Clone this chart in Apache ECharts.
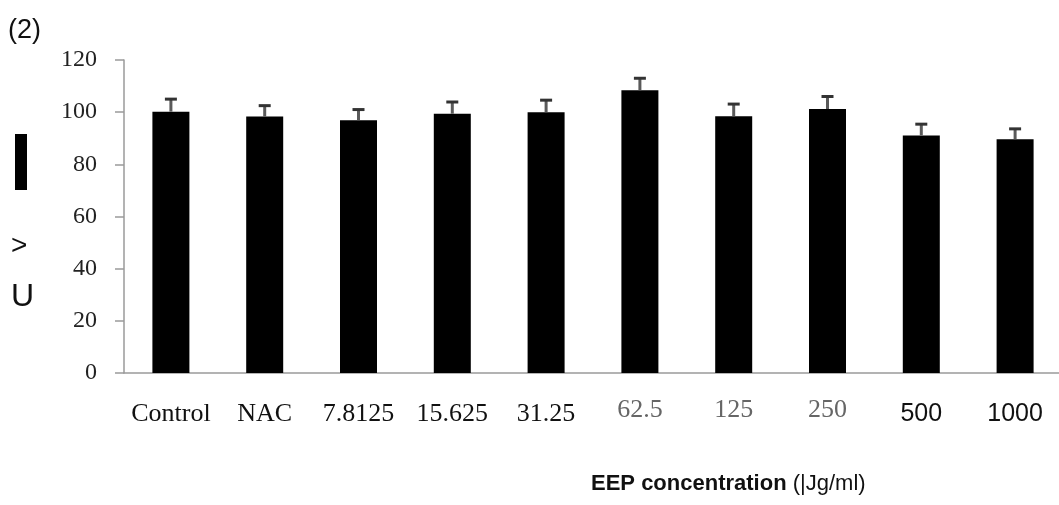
<!DOCTYPE html>
<html>
<head>
<meta charset="utf-8">
<script src="https://cdn.jsdelivr.net/npm/echarts@6/dist/echarts.min.js"></script>
<style>
html,body{margin:0;padding:0;background:#fff;}
#chart{width:1059px;height:505px;}
</style>
</head>
<body>
<div id="chart"></div>
<script>
const categories = ['Control','NAC','7.8125','15.625','31.25','62.5','125','250','500','1000'];
const values = [100.2, 98.3, 96.9, 99.4, 100.0, 108.4, 98.4, 101.2, 91.1, 89.6];
const errors = [4.8, 4.2, 4.1, 4.5, 4.6, 4.6, 4.7, 4.8, 4.3, 4.0];
const yTicks = [0, 20, 40, 60, 80, 100, 120];
const panelLabel = '(2)';
const sideLabels = ['>', 'U'];
const xTitleBold = 'EEP concentration';
const xTitleUnit = ' (|Jg/ml)';

const chart = echarts.init(document.getElementById('chart'), null, {renderer:'canvas'});

function labelStyleKey(i){
  if (i >= 5 && i <= 7) return 'g';
  if (i >= 8) return 's';
  return 't';
}

const option = {
  animation: false,
  backgroundColor: '#ffffff',
  grid: {left: 124, top: 60, width: 938, height: 313, outerBoundsMode: 'none', containLabel: false},
  xAxis: {
    type: 'category',
    data: categories,
    boundaryGap: true,
    axisLine: {show: true, lineStyle: {color: '#9a9a9a', width: 1.5}},
    axisTick: {show: false},
    axisLabel: {
      interval: 0,
      margin: 22,
      verticalAlign: 'top',
      formatter: function(v, i){ return '{' + labelStyleKey(i) + '|' + v + '}'; },
      rich: {
        t: {fontFamily: '"Liberation Serif", "Times New Roman", serif', fontSize: 26, color: '#111', lineHeight: 38},
        g: {fontFamily: '"Liberation Serif", "Times New Roman", serif', fontSize: 26, color: '#666', lineHeight: 30},
        s: {fontFamily: '"Liberation Sans", Arial, sans-serif', fontSize: 25, color: '#111', lineHeight: 38}
      }
    }
  },
  yAxis: {
    type: 'value',
    min: yTicks[0],
    max: yTicks[yTicks.length - 1],
    interval: yTicks[1] - yTicks[0],
    splitLine: {show: false},
    axisLine: {show: true, lineStyle: {color: '#9a9a9a', width: 1.5}},
    axisTick: {show: true, inside: false, length: 9, lineStyle: {color: '#9a9a9a', width: 1.5}},
    axisLabel: {
      margin: 27,
      fontFamily: '"Liberation Serif", "Times New Roman", serif',
      fontSize: 24,
      color: '#222'
    }
  },
  series: [
    {
      type: 'bar',
      data: values,
      barWidth: 37,
      itemStyle: {color: '#000000'},
      z: 2
    },
    {
      type: 'custom',
      z: 3,
      data: values.map((v, i) => [i, v, errors[i]]),
      renderItem: function(params, api){
        const x = api.value(0);
        const v = api.value(1);
        const e = api.value(2);
        const base = api.coord([x, v]);
        const top = api.coord([x, v + e]);
        const half = 6;
        return {
          type: 'group',
          children: [
            {type: 'line', shape: {x1: base[0], y1: base[1], x2: top[0], y2: top[1]}, style: {stroke: '#5a5a5a', lineWidth: 3}},
            {type: 'line', shape: {x1: top[0] - half, y1: top[1], x2: top[0] + half, y2: top[1]}, style: {stroke: '#333', lineWidth: 3}}
          ]
        };
      }
    }
  ],
  graphic: [
    {type: 'text', left: 8, top: 17, style: {text: panelLabel, font: '27px "Liberation Sans", Arial, sans-serif', fill: '#111'}},
    {type: 'rect', left: 15, top: 134, shape: {width: 12, height: 56}, style: {fill: '#000'}},
    {type: 'text', left: 11, top: 232, style: {text: sideLabels[0], font: '28px "Liberation Sans", Arial, sans-serif', fill: '#111'}},
    {type: 'text', left: 11, top: 281, style: {text: sideLabels[1], font: '32px "Liberation Sans", Arial, sans-serif', fill: '#111'}},
    {type: 'text', left: 591, top: 473, style: {
      text: '{b|' + xTitleBold + '}{n|' + xTitleUnit + '}',
      rich: {
        b: {fontFamily: '"Liberation Sans", Arial, sans-serif', fontWeight: 'bold', fontSize: 22, fill: '#111', letterSpacing: -0.6},
        n: {fontFamily: '"Liberation Sans", Arial, sans-serif', fontSize: 22, fill: '#111'}
      }
    }}
  ]
};
chart.setOption(option);
</script>
</body>
</html>
